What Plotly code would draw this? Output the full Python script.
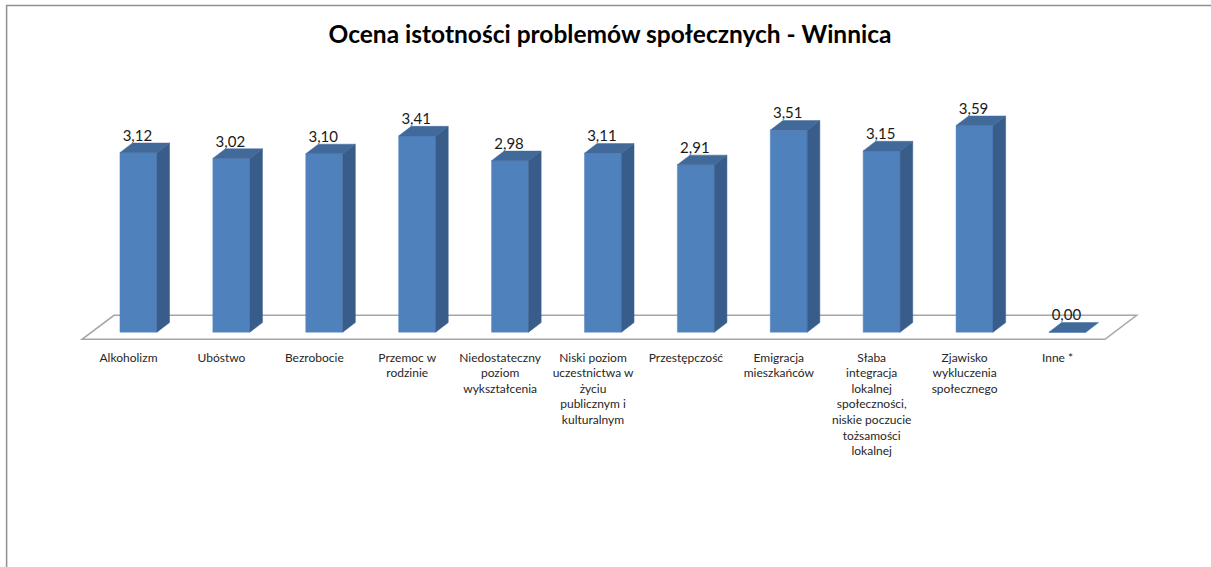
import plotly.graph_objects as go

categories = ["Alkoholizm", "Ubóstwo", "Bezrobocie", "Przemoc w<br>rodzinie",
              "Niedostateczny<br>poziom<br>wykształcenia",
              "Niski poziom<br>uczestnictwa w<br>życiu<br>publicznym i<br>kulturalnym",
              "Przestępczość", "Emigracja<br>mieszkańców",
              "Słaba<br>integracja<br>lokalnej<br>społeczności,<br>niskie poczucie<br>tożsamości<br>lokalnej",
              "Zjawisko<br>wykluczenia<br>społecznego", "Inne *"]
values = [3.12, 3.02, 3.10, 3.41, 2.98, 3.11, 2.91, 3.51, 3.15, 3.59, 0.00]
value_labels = ["3,12", "3,02", "3,10", "3,41", "2,98", "3,11", "2,91", "3,51", "3,15", "3,59", "0,00"]

W, H = 1211, 567
PX_X, PX_Y = 92.9, 57.55           # pixels per category / per value unit
X0_PX, Y0_PX = 128.5, 332.2        # pixel of category 0 label / of value 0
SHIFT = 0.107                      # bar centres sit right of their labels
BAR_W = 0.398
DX, DY = 12.6 / PX_X, 9.6 / PX_Y   # 3-D depth in axis units
LABEL_LIFT = 8 / PX_Y              # data labels float above the bar top
LABEL_NUDGE = -1 / PX_X

FRONT, SIDE, TOP = "#4F81BD", "#385D8A", "#41699A"
idx = list(range(len(values)))
centers = [i + SHIFT for i in idx]

fig = go.Figure()
fig.add_trace(go.Bar(x=centers, y=values, width=BAR_W,
                     marker=dict(color=FRONT, line=dict(color="#5B8BC4", width=0.5)),
                     hoverinfo="skip", showlegend=False))


def poly(xs, ys, color):
    fig.add_trace(go.Scatter(x=xs, y=ys, mode="lines", fill="toself", fillcolor=color,
                             line=dict(color=color, width=0.5), hoverinfo="skip", showlegend=False))


for c, v in zip(centers, values):
    l, r = c - BAR_W / 2, c + BAR_W / 2
    if v > 0:
        poly([r, r + DX, r + DX, r, r], [0, DY, v + DY, v, 0], SIDE)
    poly([l, r, r + DX, l + DX, l], [v, v, v + DY, v + DY, v], TOP)

fig.add_trace(go.Scatter(x=[c + LABEL_NUDGE for c in centers], y=[v + LABEL_LIFT for v in values],
                         mode="text", text=value_labels, textposition="top center",
                         textfont=dict(family="Lato", size=15, color="#1a1a1a"),
                         hoverinfo="skip", showlegend=False))

# floor of the 3-D plot
xf = lambda px: (px - X0_PX) / PX_X
yf = lambda py: (Y0_PX - py) / PX_Y
floor = [(82, 339.3), (1105, 339.3), (1136.7, 315.3), (114, 315.3)]
path = "M " + " L ".join(f"{xf(a)},{yf(b)}" for a, b in floor) + " Z"
shapes = [dict(type="path", path=path, xref="x", yref="y", layer="below",
               line=dict(color="#A6A6A6", width=1.5), fillcolor="white"),
          dict(type="line", xref="paper", yref="paper", x0=6.6 / W, x1=6.6 / W, y0=0, y1=1 - 5 / H,
               line=dict(color="#909090", width=1.5)),
          dict(type="line", xref="paper", yref="paper", x0=6 / W, x1=1, y0=1 - 5.6 / H, y1=1 - 5.6 / H,
               line=dict(color="#909090", width=1.5))]

fig.update_layout(
    width=W, height=H, margin=dict(l=0, r=0, t=0, b=0),
    paper_bgcolor="white", plot_bgcolor="white", showlegend=False,
    shapes=shapes,
    title=dict(text="<b>Ocena istotności problemów społecznych - Winnica</b>",
               x=610 / W, xanchor="center", y=1 - 34 / H, yanchor="middle",
               font=dict(family="Lato", size=24.5, color="black")),
    xaxis=dict(range=[xf(0), xf(W)], tickmode="array", tickvals=idx, ticktext=categories,
               anchor="free", position=1 - 348.5 / H, domain=[0, 1], showgrid=False, zeroline=False,
               showline=False, ticks="", tickangle=0,
               tickfont=dict(family="Lato", size=12, color="#262626")),
    yaxis=dict(range=[yf(H), yf(0)], domain=[0, 1], visible=False),
)

fig.write_html("out.html", config={"displayModeBar": False},
               post_script="document.body.style.margin='0';")
